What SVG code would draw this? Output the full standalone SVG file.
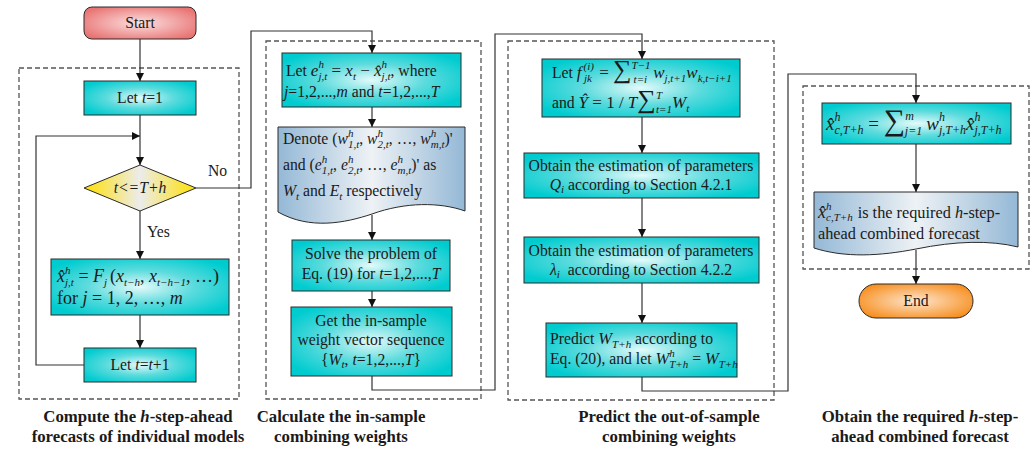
<svg xmlns="http://www.w3.org/2000/svg" width="1030" height="463" viewBox="0 0 1030 463">
<defs>
<radialGradient id="gc" cx="0.5" cy="0.5" r="0.6">
<stop offset="0" stop-color="#e4fafa"/><stop offset="0.5" stop-color="#5cdbdd"/><stop offset="1" stop-color="#00ccd0"/>
</radialGradient>
<radialGradient id="gs" cx="0.5" cy="0.5" r="0.6">
<stop offset="0" stop-color="#fbe0e0"/><stop offset="1" stop-color="#e97474"/>
</radialGradient>
<radialGradient id="ge" cx="0.5" cy="0.5" r="0.6">
<stop offset="0" stop-color="#fde6cf"/><stop offset="1" stop-color="#f78d1c"/>
</radialGradient>
<linearGradient id="gy" x1="0" y1="0" x2="1" y2="0">
<stop offset="0" stop-color="#ffe000"/><stop offset="0.5" stop-color="#ececec"/><stop offset="1" stop-color="#ffe000"/>
</linearGradient>
<linearGradient id="gd" x1="0" y1="0" x2="1" y2="0">
<stop offset="0" stop-color="#94b8d6"/><stop offset="0.5" stop-color="#eef2f5"/><stop offset="1" stop-color="#94b8d6"/>
</linearGradient>
<marker id="ar" viewBox="0 0 10 10" refX="10" refY="5" markerWidth="8" markerHeight="8" markerUnits="userSpaceOnUse" orient="auto">
<path d="M0,0 L10,5 L0,10 Z" fill="#111"/>
</marker>
<style>
.box{fill:url(#gc);stroke:#2a2a2a;stroke-width:1}
.doc{fill:url(#gd);stroke:#2a2a2a;stroke-width:1}
.t{font-family:"Liberation Serif","Times New Roman",serif;font-size:15.7px;fill:#1a1a1a}
.m{font-size:18px}
.c{text-anchor:middle}
.i{font-style:italic}
.s{font-size:11px;font-style:italic}
.s12{font-size:12px;font-style:italic}
.big{font-size:26px}
.dash{fill:none;stroke:#555;stroke-width:1.3;stroke-dasharray:5,3}
.conn path{fill:none;stroke:#333;stroke-width:1.2}
.lbl{font-family:"Liberation Serif","Times New Roman",serif;font-weight:bold;font-size:16.8px;fill:#1a1a1a;text-anchor:middle}
</style>
</defs>
<rect width="1030" height="463" fill="#fff"/>

<g id="groups">
<rect class="dash" x="19" y="68" width="220" height="331"/>
<rect class="dash" x="266" y="41" width="215" height="358"/>
<rect class="dash" x="508" y="41" width="266" height="359"/>
<rect class="dash" x="803" y="86" width="226" height="183"/>
</g>

<g class="conn">
<path d="M140,39 V81" marker-end="url(#ar)"/>
<path d="M140,115 V165" marker-end="url(#ar)"/>
<path d="M84,365 H36 V136 H140" marker-end="url(#ar)"/>
<path d="M140,211 V259" marker-end="url(#ar)"/>
<path d="M140,315 V348" marker-end="url(#ar)"/>
<path d="M196,188 H251 V31 H372 V53" marker-end="url(#ar)"/>
<path d="M372,107 V127" marker-end="url(#ar)"/>
<path d="M372,215 V240" marker-end="url(#ar)"/>
<path d="M372,291 V307" marker-end="url(#ar)"/>
<path d="M372,376 V390 H495 V34 H642 V59" marker-end="url(#ar)"/>
<path d="M642,117 V153" marker-end="url(#ar)"/>
<path d="M642,198 V237" marker-end="url(#ar)"/>
<path d="M642,283 V323" marker-end="url(#ar)"/>
<path d="M642,377 V391 H788 V74 H916 V103" marker-end="url(#ar)"/>
<path d="M916,144 V192" marker-end="url(#ar)"/>
<path d="M916,250 V284" marker-end="url(#ar)"/>
</g>

<g id="start">
<rect x="84" y="7" width="112" height="32" rx="8" fill="url(#gs)" stroke="#2a2a2a"/>
<text class="t c" x="140" y="28">Start</text>
</g>

<g id="let-t1">
<rect class="box" x="84" y="81" width="112" height="34"/>
<text class="t c" x="140" y="103">Let <tspan class="i">t</tspan>=1</text>
</g>

<g id="decision">
<polygon points="140,165 196,188 140,211 84,188" fill="url(#gy)" stroke="#2a2a2a"/>
<text class="t c i" x="140" y="193">t&lt;=T+h</text>
<text class="t" x="208" y="176">No</text>
<text class="t" x="147" y="237">Yes</text>
</g>

<g id="compute">
<rect class="box" x="51" y="259" width="178" height="56"/>
<text class="t m" x="57" y="282"><tspan class="i">x̂</tspan><tspan class="s" dy="-8">h</tspan><tspan class="s" dx="-5.5" dy="12">j,t</tspan><tspan dy="-4"> = </tspan><tspan class="i">F</tspan><tspan class="s" dy="4">j</tspan><tspan dy="-4" dx="3">(</tspan><tspan class="i">x</tspan><tspan class="s" dy="4">t−h</tspan><tspan dy="-4">, </tspan><tspan class="i">x</tspan><tspan class="s" dy="4">t−h−1</tspan><tspan dy="-4">, …)</tspan></text>
<text class="t m" x="57" y="304">for <tspan class="i">j</tspan> = 1, 2, …, <tspan class="i">m</tspan></text>
</g>

<g id="let-tt1">
<rect class="box" x="84" y="348" width="112" height="34"/>
<text class="t c" x="140" y="370">Let <tspan class="i">t</tspan>=<tspan class="i">t</tspan>+1</text>
</g>

<g id="let-e">
<rect class="box" x="282" y="53" width="179" height="54"/>
<text class="t" x="286" y="76">Let <tspan class="i" style="font-size:17px">e</tspan><tspan class="s" dy="-8">h</tspan><tspan class="s" dx="-5.5" dy="12">j,t</tspan><tspan dy="-4" style="font-size:17px"> = </tspan><tspan class="i" style="font-size:17px">x</tspan><tspan class="s" dy="4">t</tspan><tspan dy="-4" style="font-size:17px"> − </tspan><tspan class="i" style="font-size:17px">x̂</tspan><tspan class="s" dy="-8">h</tspan><tspan class="s" dx="-5.5" dy="12">j,t</tspan><tspan dy="-4">, where</tspan></text>
<text class="t" x="284" y="97"><tspan class="i">j</tspan>=1,2,...,<tspan class="i">m</tspan> and <tspan class="i">t</tspan>=1,2,...,<tspan class="i">T</tspan></text>
</g>

<g id="denote">
<path class="doc" d="M278,127 H465 V211 C440,202 405,202 372,214 C345,223 310,230 278,212 Z"/>
<text class="t" x="283" y="144">Denote (<tspan class="i">w</tspan><tspan class="s" dy="-7">h</tspan><tspan class="s" dx="-5.5" dy="11">1,t</tspan><tspan dy="-4">, </tspan><tspan class="i">w</tspan><tspan class="s" dy="-7">h</tspan><tspan class="s" dx="-5.5" dy="11">2,t</tspan><tspan dy="-4">, …, </tspan><tspan class="i">w</tspan><tspan class="s" dy="-7">h</tspan><tspan class="s" dx="-5.5" dy="11">m,t</tspan><tspan dy="-4">)'</tspan></text>
<text class="t" x="283" y="170">and (<tspan class="i">e</tspan><tspan class="s" dy="-7">h</tspan><tspan class="s" dx="-5.5" dy="11">1,t</tspan><tspan dy="-4">, </tspan><tspan class="i">e</tspan><tspan class="s" dy="-7">h</tspan><tspan class="s" dx="-5.5" dy="11">2,t</tspan><tspan dy="-4">, …, </tspan><tspan class="i">e</tspan><tspan class="s" dy="-7">h</tspan><tspan class="s" dx="-5.5" dy="11">m,t</tspan><tspan dy="-4">)' as</tspan></text>
<text class="t" x="283" y="196"><tspan class="i">W</tspan><tspan class="s" dy="4">t</tspan><tspan dy="-4"> and </tspan><tspan class="i">E</tspan><tspan class="s" dy="4">t</tspan><tspan dy="-4"> respectively</tspan></text>
</g>

<g id="solve">
<rect class="box" x="292" y="240" width="158" height="51"/>
<text class="t c" x="371" y="259">Solve the problem of</text>
<text class="t c" x="371" y="279">Eq. (19) for <tspan class="i">t</tspan>=1,2,...,<tspan class="i">T</tspan></text>
</g>

<g id="get">
<rect class="box" x="291" y="307" width="161" height="69"/>
<text class="t c" x="371" y="326">Get the in-sample</text>
<text class="t c" x="371" y="345">weight vector sequence</text>
<text class="t c" x="371" y="365">{<tspan class="i">W</tspan><tspan class="s" dy="3">t</tspan><tspan dy="-3">, </tspan><tspan class="i">t</tspan>=1,2,...,<tspan class="i">T</tspan>}</text>
</g>

<g id="let-f">
<rect class="box" x="542" y="59" width="198" height="58"/>
<text class="t" x="552" y="78">Let <tspan class="i" style="font-size:17px">f</tspan><tspan class="s" dy="-8" dx="2">(i)</tspan><tspan class="s" dx="-10" dy="12">jk</tspan><tspan dy="-4" dx="3" style="font-size:17px"> = </tspan><tspan class="big">∑</tspan><tspan class="s" dy="-9">T−1</tspan><tspan class="s" dx="-17" dy="14">t=i</tspan><tspan dy="-5" dx="6" class="i" style="font-size:17px">w</tspan><tspan class="s" dy="4">j,t+1</tspan><tspan dy="-4" class="i" style="font-size:17px">w</tspan><tspan class="s" dy="4">k,t−i+1</tspan></text>
<text class="t" x="552" y="108">and <tspan class="i" style="font-size:17px">Ŷ</tspan><tspan style="font-size:17px"> = 1 / </tspan><tspan class="i" style="font-size:17px">T</tspan><tspan class="big">∑</tspan><tspan class="s" dy="-9">T</tspan><tspan class="s" dx="-6" dy="14">t=1</tspan><tspan dy="-5" class="i" style="font-size:17px">W</tspan><tspan class="s" dy="4">t</tspan></text>
</g>

<g id="obtain-q">
<rect class="box" x="524" y="153" width="235" height="45"/>
<text class="t c" x="641" y="171">Obtain the estimation of parameters</text>
<text class="t c" x="641" y="190"><tspan class="i">Q</tspan><tspan class="s" dy="3">i</tspan><tspan dy="-3"> according to Section 4.2.1</tspan></text>
</g>

<g id="obtain-l">
<rect class="box" x="524" y="237" width="235" height="46"/>
<text class="t c" x="641" y="256">Obtain the estimation of parameters</text>
<text class="t c" x="641" y="275"><tspan class="i">λ</tspan><tspan class="s" dy="3">i</tspan><tspan dy="-3" dx="4"> according to Section 4.2.2</tspan></text>
</g>

<g id="predict">
<rect class="box" x="546" y="323" width="191" height="54"/>
<text class="t" x="550" y="344">Predict <tspan class="i" style="font-size:16.5px">W</tspan><tspan class="s" dy="4">T+h</tspan><tspan dy="-4"> according to</tspan></text>
<text class="t" x="550" y="364">Eq. (20), and let <tspan class="i" style="font-size:16.5px">W</tspan><tspan class="s" dy="-7">h</tspan><tspan class="s" dx="-5.5" dy="11">T+h</tspan><tspan dy="-4"> = </tspan><tspan class="i" style="font-size:16.5px">W</tspan><tspan class="s" dy="4">T+h</tspan></text>
</g>

<g id="combine">
<rect class="box" x="822" y="103" width="189" height="41"/>
<text class="t" style="font-size:19px" x="826" y="130"><tspan class="i">x̂</tspan><tspan class="s12" dy="-9">h</tspan><tspan class="s12" dx="-6" dy="13">c,T+h</tspan><tspan dy="-4"> = </tspan><tspan style="font-size:30px">∑</tspan><tspan class="s12" dy="-10">m</tspan><tspan class="s12" dx="-9" dy="15">j=1</tspan><tspan dy="-5" dx="4" class="i">w</tspan><tspan class="s12" dy="-9">h</tspan><tspan class="s12" dx="-6" dy="13">j,T+h</tspan><tspan dy="-4" class="i">x̂</tspan><tspan class="s12" dy="-9">h</tspan><tspan class="s12" dx="-6" dy="13">j,T+h</tspan></text>
</g>

<g id="required">
<path class="doc" d="M814,192 H1018 V247 C990,240 955,241 916,249 C880,256 845,258 814,248 Z"/>
<text class="t" style="font-size:16.3px" x="818" y="218"><tspan class="i" style="font-size:18px">x̂</tspan><tspan class="s" dy="-8">h</tspan><tspan class="s" dx="-5.5" dy="11">c,T+h</tspan><tspan dy="-3" dx="5">is the required </tspan><tspan class="i">h</tspan>-step-</text>
<text class="t" style="font-size:16.3px" x="818" y="239">ahead combined forecast</text>
</g>

<g id="end">
<rect x="859" y="284" width="114" height="34" rx="17" fill="url(#ge)" stroke="#2a2a2a"/>
<text class="t c" x="916" y="306">End</text>
</g>

<g id="labels">
<text class="lbl" x="138" y="422">Compute the <tspan font-style="italic">h</tspan>-step-ahead</text>
<text class="lbl" x="138" y="442">forecasts of individual models</text>
<text class="lbl" x="341" y="422">Calculate the in-sample</text>
<text class="lbl" x="341" y="442">combining weights</text>
<text class="lbl" x="669" y="422">Predict the out-of-sample</text>
<text class="lbl" x="669" y="442">combining weights</text>
<text class="lbl" x="920" y="422">Obtain the required <tspan font-style="italic">h</tspan>-step-</text>
<text class="lbl" x="920" y="442">ahead combined forecast</text>
</g>
</svg>
